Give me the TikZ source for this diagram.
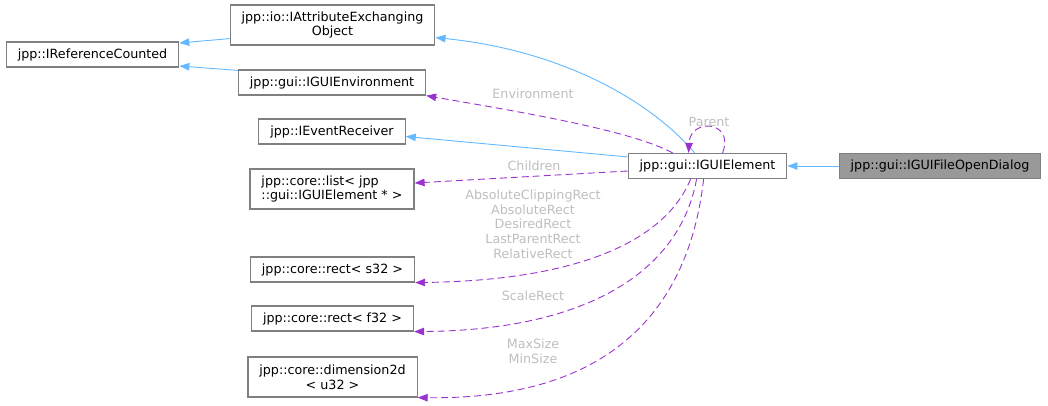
\documentclass[tikz,border=0pt]{standalone}
\usepackage{fontspec}
\setmainfont{DejaVu Sans}
\usetikzlibrary{arrows.meta}
\definecolor{inhblue}{HTML}{63B8FF}
\definecolor{usepurple}{HTML}{9A32CD}
\definecolor{boxgray}{HTML}{808080}
\definecolor{focusgray}{HTML}{999999}
\definecolor{lblgray}{HTML}{BEBEBE}
\begin{document}
\begin{tikzpicture}[x=1pt, y=-1pt,
    cls/.style={draw=boxgray, fill=white, line width=1.2pt, minimum height=25pt, inner xsep=11.5pt, inner ysep=2pt, font=\fontsize{12.7}{14.7}\selectfont},
    tall/.style={minimum height=40pt, align=center},
    inh/.style={draw=inhblue, line width=0.9pt, -{Triangle[length=10pt,width=7.5pt]}},
    use/.style={draw=usepurple, line width=0.9pt, dash pattern=on 7pt off 4pt, -{Triangle[length=10pt,width=7.5pt]}},
    lbl/.style={text=lblgray, align=center, inner sep=0pt, font=\fontsize{12.7}{14.7}\selectfont}]
    \useasboundingbox (0,0) rectangle (1048,405);

    \node[cls] (refcnt) at (92.5,54.5) {jpp::IReferenceCounted};
    \node[cls,tall] (attrib) at (332.5,25) {jpp::io::IAttributeExchanging\\Object};
    \node[cls] (guienv) at (332,82.5) {jpp::gui::IGUIEnvironment};
    \node[cls] (evrecv) at (332,131.5) {jpp::IEventReceiver};
    \node[cls,tall,align=left] (elist) at (332,189) {jpp::core::list< jpp\\::gui::IGUIElement * >};
    \node[cls] (rects) at (332.5,269.5) {jpp::core::rect< s32 >};
    \node[cls] (rectf) at (332.5,318.5) {jpp::core::rect< f32 >};
    \node[cls,tall] (dimu) at (332.5,377) {jpp::core::dimension2d\\< u32 >};
    \node[cls] (elem) at (707.5,166) {jpp::gui::IGUIElement};
    \node[cls,fill=focusgray] (fodlg) at (940,166) {jpp::gui::IGUIFileOpenDialog};

    \draw[inh] ([yshift=7pt]attrib.south west) -- ([yshift=11.5pt]refcnt.east);
    \draw[inh] ([yshift=-1pt]guienv.north west) -- ([yshift=-11.5pt]refcnt.east);
    \draw[inh] (fodlg) -- (elem);
    \draw[inh] ([yshift=-4pt]elem.north west) -- ([yshift=-5pt]evrecv.east);
    \draw[inh] ([xshift=67pt]elem.north west) .. controls (650,100) and (560,50) .. ([yshift=8pt]attrib.south east);

    \draw[use] ([xshift=45pt]elem.north west) .. controls (630,130) and (520,112) .. (guienv.south east);
    \draw[use] ([xshift=95pt]elem.north west) .. controls (735,120) and (690,118) .. ([xshift=61pt]elem.north west);
    \draw[use] ([yshift=-5pt]elem.west) -- ([yshift=6pt]elist.east);
    \draw[use] ([xshift=63pt]elem.south west) .. controls (670,230) and (600,280) .. (rects.south east);
    \draw[use] ([xshift=69pt]elem.south west) .. controls (680,270) and (590,330) .. (rectf.south east);
    \draw[use] ([xshift=76pt]elem.south west) .. controls (690,300) and (620,400) .. (dimu.south east);

    \node[lbl] (lenv) at (533,94) {Environment};
    \node[lbl] (lpar) at (709,122) {Parent};
    \node[lbl] (lchl) at (534,166) {Children};
    \node[lbl] (lrct) at (533,224) {AbsoluteClippingRect\\AbsoluteRect\\DesiredRect\\LastParentRect\\RelativeRect};
    \node[lbl] (lscl) at (533,296) {ScaleRect};
    \node[lbl] (lsiz) at (533,351) {MaxSize\\MinSize};
\end{tikzpicture}
\end{document}
